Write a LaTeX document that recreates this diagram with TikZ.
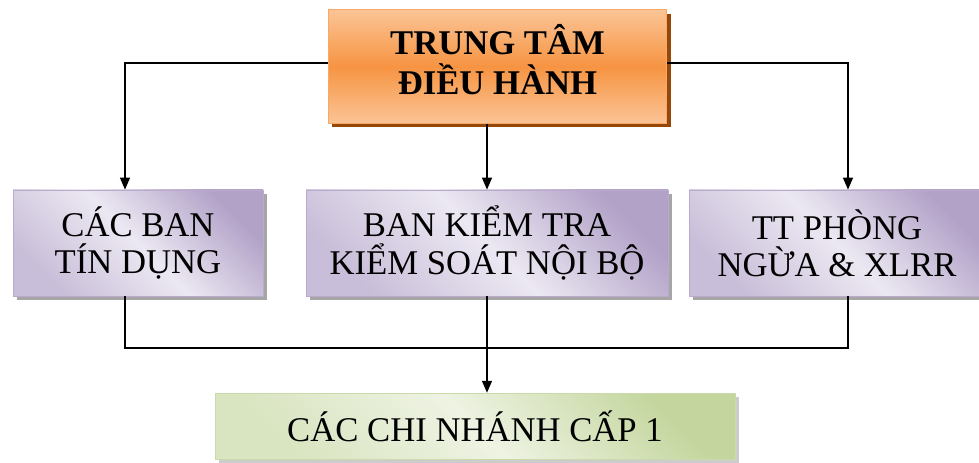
\documentclass[tikz,border=0pt]{standalone}
\usepackage{fontspec}
\setmainfont{Liberation Serif}
\usepackage{xcolor}
\usetikzlibrary{positioning,arrows.meta,shadows}

\definecolor{camnhat}{RGB}{251,196,150}
\definecolor{camdam}{RGB}{246,148,66}
\definecolor{nau}{RGB}{150,72,8}
\definecolor{timnhat}{RGB}{236,232,242}
\definecolor{timdam}{RGB}{178,162,200}
\definecolor{xanhnhat}{RGB}{238,243,227}
\definecolor{xanhdam}{RGB}{196,214,158}

\begin{document}
\begin{tikzpicture}[x=0.75pt,y=0.75pt,yscale=-1,
  hop/.style={inner sep=2pt, align=center, font=\fontsize{26}{28}\selectfont},
  hopcam/.style={hop, top color=camnhat, bottom color=camnhat, middle color=camdam,
    draw=camdam!80, line width=0.6pt,
    drop shadow={shadow xshift=3pt, shadow yshift=-3pt, fill=nau, opacity=1}},
  hoptim/.style={hop, left color=timdam!60!timnhat, right color=timdam, middle color=timnhat,
    shading angle=135, draw=timdam!90, line width=0.6pt,
    drop shadow={shadow xshift=3pt, shadow yshift=-3pt, fill=gray!70, opacity=1}},
  hopxanh/.style={hop, left color=xanhdam!50!xanhnhat, right color=xanhdam, middle color=xanhnhat,
    shading angle=135, draw=xanhdam!90, line width=0.6pt,
    drop shadow={shadow xshift=3pt, shadow yshift=-3pt, fill=gray!40, opacity=1}},
  noi/.style={line width=1pt},
  muiten/.style={noi, -{Triangle[length=9pt,width=7.5pt]}}]
  \useasboundingbox (0,0) rectangle (979,463);

  % Text Node
  \node[hopcam, minimum width=254pt, minimum height=85pt, text depth=11pt,
    font=\fontsize{26}{30}\selectfont\bfseries]
    (trungtam) at (497.5,66.5) {TRUNG TÂM\\ĐIỀU HÀNH};
  % Text Node
  \node[hoptim, minimum width=187.5pt, minimum height=79.5pt] (bantd) at (138,243) {CÁC BAN\\TÍN DỤNG};
  % Text Node
  \node[hoptim, minimum width=271.5pt, minimum height=79.5pt] (bankt) at (487,243) {BAN KIỂM TRA\\KIỂM SOÁT NỘI BỘ};
  % Text Node
  \node[hoptim, minimum width=222pt, minimum height=79.5pt] (ttpn) at (837,243) {TT PHÒNG\\NGỪA \& XLRR};
  % Text Node
  \node[hopxanh, minimum width=390pt, minimum height=50pt] (chinhanh) at (475,426.5) {CÁC CHI NHÁNH CẤP 1};

  \coordinate (gop) at (487,348);

  %Straight Lines
  \draw[muiten] ([yshift=-2.6pt]trungtam.west) -| ([xshift=-9.75pt]bantd.north);
  \draw[muiten] ([yshift=-2.6pt]trungtam.east) -| ([xshift=8.25pt]ttpn.north);
  \draw[muiten] (bankt.north |- trungtam.south) -- (bankt.north);
  %Straight Lines
  \draw[noi] ([xshift=-9.75pt]bantd.south) |- (gop) -| ([xshift=8.25pt]ttpn.south);
  \draw[muiten] (bankt.south) -- (bankt.south |- chinhanh.north);

\end{tikzpicture}
\end{document}
